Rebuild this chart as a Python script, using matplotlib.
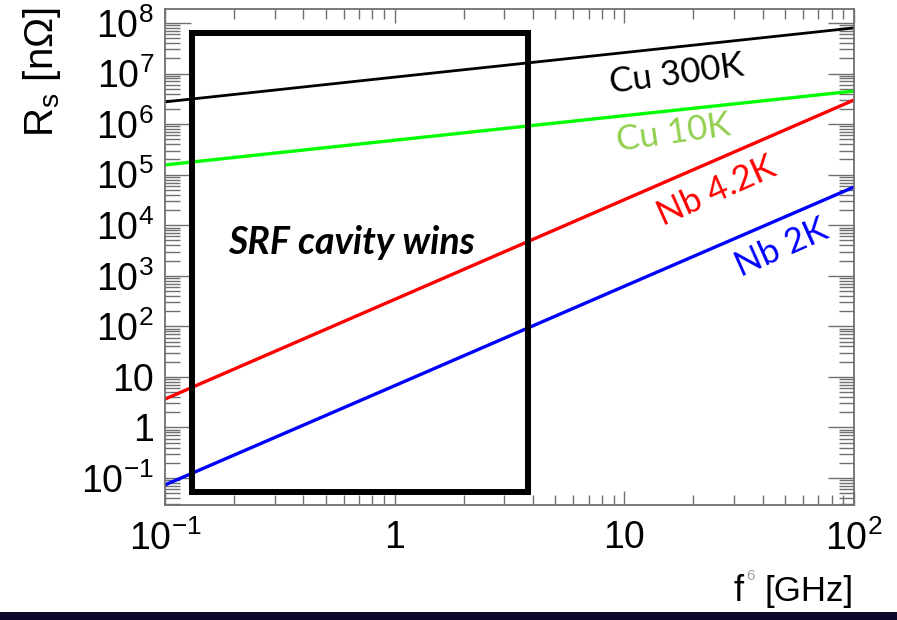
import numpy as np
import matplotlib
matplotlib.use("Agg")
import matplotlib.pyplot as plt
from matplotlib.patches import Rectangle
from matplotlib.ticker import LogLocator, NullFormatter

plt.rcParams['font.family'] = ['Liberation Sans', 'DejaVu Sans']
plt.rcParams['mathtext.fontset'] = 'custom'
plt.rcParams['mathtext.rm'] = 'Liberation Sans'
plt.rcParams['mathtext.it'] = 'Liberation Sans:italic'
plt.rcParams['mathtext.bf'] = 'Liberation Sans:bold'

# frequency points (GHz) and surface resistance (nOhm)
freq = [0.1, 1, 10, 100]
cu_300k = [2.75e6, 8.5e6, 2.6e7, 8.0e7]
cu_10k = [1.56e5, 4.8e5, 1.47e6, 4.5e6]
nb_4k2 = [3.64, 341, 3.2e4, 3.0e6]
nb_2k = [0.073, 6.7, 621, 5.7e4]

# "SRF cavity wins" box corners (f, Rs)
box_f = [0.131, 3.8]
box_r = [0.053, 6.3e7]

xticks = [0.1, 1, 10, 100]
xticklabels = [r'$10^{-1}$', '1', '10', r'$10^{2}$']
yticks = [1e-1, 1, 10, 1e2, 1e3, 1e4, 1e5, 1e6, 1e7, 1e8]
yticklabels = [r'$10^{-1}$', '1', '10', r'$10^{2}$', r'$10^{3}$', r'$10^{4}$',
               r'$10^{5}$', r'$10^{6}$', r'$10^{7}$', r'$10^{8}$']

W, H = 897, 620
fig = plt.figure(figsize=(W / 100, H / 100), dpi=100)
ax = fig.add_axes([165 / W, 1 - 505 / H, (854 - 165) / W, (505 - 9) / H])

ax.plot(freq, cu_300k, color='black', lw=2.0)
ax.plot(freq, cu_10k, color='#00ff00', lw=2.4)
ax.plot(freq, nb_4k2, color='#ff0000', lw=2.4)
ax.plot(freq, nb_2k, color='#0000ff', lw=2.4)

ax.add_patch(Rectangle((box_f[0], box_r[0]), box_f[1] - box_f[0], box_r[1] - box_r[0],
                       fill=False, edgecolor='black', lw=4.3, zorder=5))

ax.set_xscale('log')
ax.set_yscale('log')
ax.set_xlim(0.1, 100)
ax.set_ylim(10 ** -1.534, 10 ** 8.277)

ax.set_xticks(xticks)
ax.set_xticklabels(xticklabels)
ax.set_yticks(yticks)
ax.set_yticklabels(yticklabels)
ax.xaxis.set_minor_locator(LogLocator(base=10, subs=np.arange(2, 10), numticks=20))
ax.yaxis.set_minor_locator(LogLocator(base=10, subs=np.arange(2, 10), numticks=20))
ax.xaxis.set_minor_formatter(NullFormatter())
ax.yaxis.set_minor_formatter(NullFormatter())

gray = '#707070'
for s in ax.spines.values():
    s.set_color(gray)
    s.set_linewidth(1.3)
ax.tick_params(axis='both', which='both', direction='in', top=True, right=True,
               color=gray, width=1.0, labelsize=27)
ax.tick_params(axis='x', which='major', length=10, pad=11)
ax.tick_params(axis='x', which='minor', length=7)
ax.tick_params(axis='y', which='major', length=19, pad=8)
ax.tick_params(axis='y', which='minor', length=11)

# axis titles
fig.text(42 / W, 1 - 7 / H, r'$\mathrm{R_s}$ [nΩ]', rotation=90, ha='center', va='top',
         fontsize=29)
fig.text(744 / W, 1 - 601 / H, 'f', ha='right', va='baseline', fontsize=26)
fig.text(854 / W, 1 - 601 / H, '[GHz]', ha='right', va='baseline', fontsize=25)
fig.text(750 / W, 1 - 576 / H, '6', ha='center', va='center', fontsize=11, color='#a0a0a0')

# curve labels
lab = ['Lato', 'DejaVu Sans']
fig.text(677 / W, 1 - 74 / H, 'Cu 300K', rotation=7.5, ha='center', va='center',
         fontsize=25, color='black', family=lab)
fig.text(673 / W, 1 - 133 / H, 'Cu 10K', rotation=8, ha='center', va='center',
         fontsize=25, color='#92d050', family=lab)
fig.text(717 / W, 1 - 191 / H, 'Nb 4.2K', rotation=24, ha='center', va='center',
         fontsize=25, color='#ff0000', family=lab)
fig.text(782 / W, 1 - 248 / H, 'Nb 2K', rotation=24, ha='center', va='center',
         fontsize=25, color='#0000ff', family=lab)
fig.text(352 / W, 1 - 242 / H, 'SRF cavity wins', ha='center', va='center',
         fontsize=27, fontweight='bold', fontstyle='italic', family=lab)

# dark bar along bottom edge of the slide
fig.patches.append(Rectangle((0, 0), 1, 8.5 / H, transform=fig.transFigure,
                             facecolor='#10082a', edgecolor='none'))

fig.savefig('out.png', dpi=100)
